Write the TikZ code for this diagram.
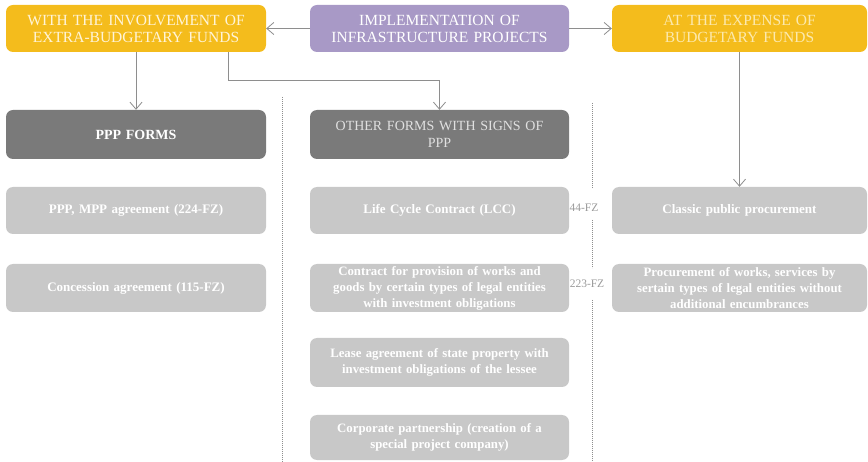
\documentclass[tikz,border=0pt]{standalone}
\usepackage{fontspec}
\setmainfont{Liberation Serif}
\usetikzlibrary{arrows.meta}

\definecolor{gold}{HTML}{F4BC1C}
\definecolor{lilac}{HTML}{A899C6}
\definecolor{darkbox}{HTML}{7A7A7A}
\definecolor{lightbox}{HTML}{C8C8C8}
\definecolor{cream}{HTML}{FFF4D8}
\definecolor{paleyellow}{HTML}{FCE9AE}
\definecolor{wire}{HTML}{8E8E8E}
\definecolor{labelgray}{HTML}{9A9A9A}

\tikzset{
  box/.style={rectangle, rounded corners=7pt, inner sep=0pt, align=center},
  headbox/.style={box, minimum height=47pt,
    font=\fontsize{15.5}{17}\selectfont},
  groupbox/.style={box, fill=darkbox, minimum height=49pt,
    font=\fontsize{14}{17}\selectfont\bfseries},
  itembox/.style={box, fill=lightbox, text=white,
    font=\fontsize{12.8}{16}\selectfont\bfseries},
  singleitem/.style={font=\fontsize{13}{16}\selectfont\bfseries},
  leftcol/.style={minimum width=260pt, text width=256pt},
  midcol/.style={minimum width=259pt, text width=255pt},
  rightcol/.style={minimum width=255pt, text width=251pt},
  conn/.style={draw=wire, line width=0.8pt,
    -{Straight Barb[length=7pt,width=12pt]}},
  sep/.style={draw=wire, line width=0.8pt, dash pattern=on 0.8pt off 1.2pt},
  lawlabel/.style={text=labelgray, inner sep=0pt,
    font=\fontsize{11.5}{12}\selectfont}
}

\begin{document}
\begin{tikzpicture}[x=1pt,y=-1pt]
\useasboundingbox (0,0) rectangle (868,462);

% top level
\node[headbox, leftcol, fill=gold, text=cream] (extra) at (136,28.5)
  {WITH THE INVOLVEMENT OF\\EXTRA-BUDGETARY FUNDS};
\node[headbox, midcol, fill=lilac, text=white] (impl) at (439.5,28.5)
  {IMPLEMENTATION OF\\INFRASTRUCTURE PROJECTS};
\node[headbox, rightcol, fill=gold, text=paleyellow] (budget) at (739.5,28.5)
  {AT THE EXPENSE OF\\BUDGETARY FUNDS};

% groups
\node[groupbox, leftcol, text=white] (pppforms) at (136,134.5) {PPP FORMS};
\node[groupbox, midcol, text=black!12, font=\fontsize{14}{17}\selectfont]
  (other) at (439.5,134.5) {OTHER FORMS WITH SIGNS OF\\PPP};

% left column items
\node[itembox, leftcol, singleitem, minimum height=47pt]
  (pppmpp) at (136,210.5) {PPP, MPP agreement (224-FZ)};
\node[itembox, leftcol, singleitem, minimum height=48pt]
  (concession) at (136,288) {Concession agreement (115-FZ)};

% middle column items
\node[itembox, midcol, singleitem, minimum height=47pt]
  (lcc) at (439.5,210.5) {Life Cycle Contract (LCC)};
\node[itembox, midcol, minimum height=48pt] (provision) at (439.5,288)
  {Contract for provision of works and\\goods by certain types of legal entities\\with investment obligations};
\node[itembox, midcol, minimum height=49pt] (lease) at (439.5,362.5)
  {Lease agreement of state property with\\investment obligations of the lessee};
\node[itembox, midcol, minimum height=45pt] (corporate) at (439.5,437.5)
  {Corporate partnership (creation of a\\special project company)};

% right column items
\node[itembox, rightcol, singleitem, minimum height=47pt]
  (classic) at (739.5,210.5) {Classic public procurement};
\node[itembox, rightcol, minimum height=48pt] (procurement) at (739.5,288)
  {Procurement of works, services by\\sertain types of legal entities without\\additional encumbrances};

% law labels
\node[lawlabel] (fz44) at (584,208) {44-FZ};
\node[lawlabel] (fz223) at (587,284) {223-FZ};

% connectors
\draw[conn] (impl.west) -- (extra.east);
\draw[conn] (impl.east) -- (budget.west);
\draw[conn] (extra.south) -- (pppforms.north);
\coordinate (bend) at (228,80);
\draw[conn] (extra.south -| bend) -- (bend) -| (other.north);
\draw[conn] (budget.south) -- (classic.north);

% dotted separators
\coordinate (s1a) at (282,97);
\coordinate (s1b) at (282,462);
\draw[sep] (s1a) -- (s1b);
\coordinate (s2a) at (592,103);
\coordinate (s2b) at (592,188);
\coordinate (s2c) at (592,220);
\coordinate (s2d) at (592,268);
\coordinate (s2e) at (592,300);
\coordinate (s2f) at (592,462);
\draw[sep] (s2a) -- (s2b);
\draw[sep] (s2c) -- (s2d);
\draw[sep] (s2e) -- (s2f);
\end{tikzpicture}
\end{document}
